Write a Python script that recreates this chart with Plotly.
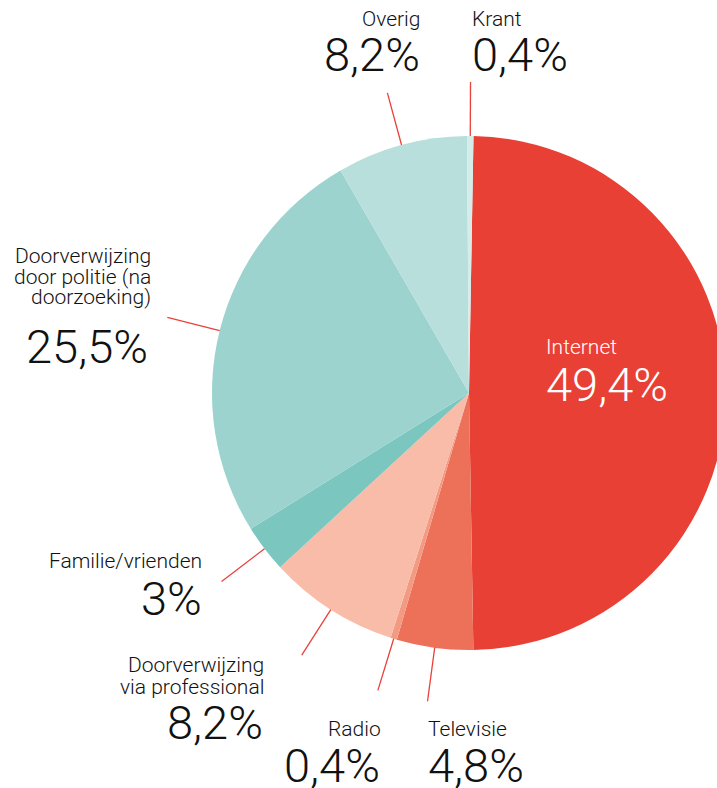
import plotly.graph_objects as go
import math

# ---- data ----
categories = ["Internet", "Televisie", "Radio", "Doorverwijzing via professional",
              "Familie/vrienden", "Doorverwijzing door politie (na doorzoeking)",
              "Overig", "Krant"]
values = [49.4, 4.8, 0.4, 8.2, 3.0, 25.5, 8.2, 0.4]
label_lines = [["Internet"], ["Televisie"], ["Radio"],
               ["Doorverwijzing", "via professional"], ["Familie/vrienden"],
               ["Doorverwijzing", "door politie (na", "doorzoeking)"],
               ["Overig"], ["Krant"]]

# ---- style ----
colors = ["#E94035", "#ED7059", "#F39A83", "#F8BCA9", "#7BC6BF", "#9CD3CE", "#B8DFDC", "#D4ECEA"]
W, H = 740, 788
CX, CY, R = 469, 393, 257
ROT = 1.0
FONT = "Roboto"
LINE_COLOR = "#E8413A"

# label layout: (anchor, x, first-line y, line step, number y, number x, text colour)
label_layout = [
    ("left", 545, 347, 0, 384, 545, "white"),
    ("left", 427, 729, 0, 765, 427, "#111"),
    ("right", 382, 729, 0, 765, 381, "#111"),
    ("right", 265, 665, 22, 722, 264, "#111"),
    ("right", 203, 561, 0, 598, 203, "#111"),
    ("right", 152, 256, 20.5, 346, 149, "#111"),
    ("right", 422, 19, 0, 54, 421, "#111"),
    ("left", 471, 19, 0, 54, 471, "#111"),
]
draw_leader = [False, True, True, True, True, True, True, True]


def fmt(v):
    s = f"{v:.1f}".replace(".", ",")
    if s.endswith(",0"):
        s = s[:-2]
    return s + "%"


def px(x):
    return x / W


def py(y):
    return 1 - y / H


fig = go.Figure(go.Pie(
    labels=categories, values=values, sort=False, direction="clockwise",
    rotation=ROT, textinfo="none", hoverinfo="label+percent",
    marker=dict(colors=colors, line=dict(width=0)),
    domain=dict(x=[(CX - R) / W, (CX + R) / W], y=[1 - (CY + R) / H, 1 - (CY - R) / H]),
    showlegend=False,
))

total = sum(values)
cum = 0.0
shapes = []
annotations = []
for i, v in enumerate(values):
    mid = (cum + v / 2) / total * 360 + ROT
    cum += v
    a = math.radians(mid)
    if draw_leader[i]:
        x0, y0 = CX + R * math.sin(a), CY - R * math.cos(a)
        x1, y1 = CX + 311 * math.sin(a), CY - 311 * math.cos(a)
        shapes.append(dict(type="line", xref="paper", yref="paper",
                           x0=px(x0), y0=py(y0), x1=px(x1), y1=py(y1),
                           line=dict(color=LINE_COLOR, width=1.3)))
    anchor, lx, ly, step, ny, nx, tc = label_layout[i]
    for k, line in enumerate(label_lines[i]):
        annotations.append(dict(xref="paper", yref="paper", x=px(lx), y=py(ly + k * step),
                                text=line, showarrow=False, xanchor=anchor, yanchor="middle",
                                borderpad=0, font=dict(family=FONT, size=21, color=tc, weight=300)))
    annotations.append(dict(xref="paper", yref="paper", x=px(nx), y=py(ny),
                            text=fmt(v), showarrow=False, xanchor=anchor, yanchor="middle",
                            borderpad=0, font=dict(family=FONT, size=47, color=tc, weight=300)))

fig.update_layout(width=W, height=H, margin=dict(l=0, r=0, t=0, b=0),
                  paper_bgcolor="white", plot_bgcolor="white",
                  shapes=shapes, annotations=annotations)

fig.write_html("out.html", config={"displayModeBar": False}, post_script=(
    "document.body.style.margin='0';document.body.style.overflow='hidden';"
    "document.documentElement.style.overflow='hidden';"))
